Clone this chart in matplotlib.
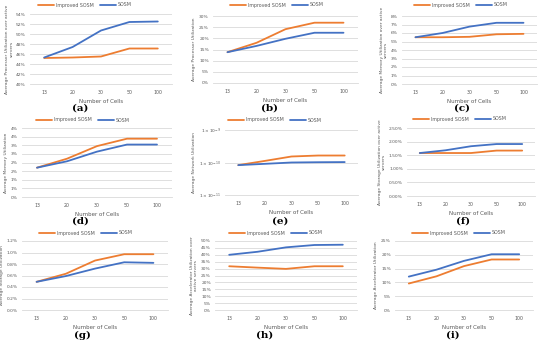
import matplotlib
matplotlib.use("Agg")
import matplotlib.pyplot as plt
from matplotlib.ticker import FixedLocator, FixedFormatter, NullLocator

# ---------------- data ----------------
cells = ["13", "20", "30", "50", "100"]
series_names = ["Improved SOSM", "SOSM"]

a_improved = [45.2, 45.3, 45.5, 47.1, 47.1]
a_sosm = [45.3, 47.4, 50.7, 52.4, 52.5]

b_improved = [13.8, 18.0, 24.1, 27.0, 27.0]
b_sosm = [13.8, 16.6, 19.8, 22.5, 22.5]

c_improved = [5.5, 5.5, 5.55, 5.85, 5.9]
c_sosm = [5.5, 6.0, 6.75, 7.2, 7.2]

d_improved = [1.7, 2.22, 2.95, 3.38, 3.38]
d_sosm = [1.7, 2.07, 2.63, 3.04, 3.04]

e_improved = [0.83e-10, 1.12e-10, 1.53e-10, 1.64e-10, 1.64e-10]
e_sosm = [0.83e-10, 0.91e-10, 1.0e-10, 1.02e-10, 1.03e-10]

f_improved = [1.58, 1.58, 1.58, 1.67, 1.67]
f_sosm = [1.58, 1.68, 1.83, 1.91, 1.91]

g_improved = [0.49, 0.63, 0.86, 0.97, 0.97]
g_sosm = [0.49, 0.59, 0.72, 0.83, 0.82]

h_improved = [31.7, 30.7, 29.8, 31.7, 31.7]
h_sosm = [40.0, 42.2, 45.4, 47.1, 47.3]

i_improved = [9.6, 12.2, 15.9, 18.3, 18.3]
i_sosm = [12.1, 14.6, 17.8, 20.2, 20.2]

a_ticks = [40, 42, 44, 46, 48, 50, 52, 54]
a_labels = ["40%", "42%", "44%", "46%", "48%", "50%", "52%", "54%"]
b_ticks = [0, 5, 10, 15, 20, 25, 30]
b_labels = ["0%", "5%", "10%", "15%", "20%", "25%", "30%"]
c_ticks = [0, 1, 2, 3, 4, 5, 6, 7, 8]
c_labels = ["0%", "1%", "2%", "3%", "4%", "5%", "6%", "7%", "8%"]
d_ticks = [0, 0.5, 1, 1.5, 2, 2.5, 3, 3.5, 4]
d_labels = ["0%", "1%", "1%", "2%", "2%", "3%", "3%", "4%", "4%"]
e_ticks = [1e-11, 1e-10, 1e-9]
e_labels = [r"$1\times10^{-11}$", r"$1\times10^{-10}$", r"$1\times10^{-9}$"]
f_ticks = [0, 0.5, 1.0, 1.5, 2.0, 2.5]
f_labels = ["0.00%", "0.50%", "1.00%", "1.50%", "2.00%", "2.50%"]
g_ticks = [0, 0.2, 0.4, 0.6, 0.8, 1.0, 1.2]
g_labels = ["0.0%", "0.2%", "0.4%", "0.6%", "0.8%", "1.0%", "1.2%"]
h_ticks = [0, 5, 10, 15, 20, 25, 30, 35, 40, 45, 50]
h_labels = ["0%", "5%", "10%", "15%", "20%", "25%", "30%", "35%", "40%", "45%", "50%"]
i_ticks = [0, 5, 10, 15, 20, 25]
i_labels = ["0%", "5%", "10%", "15%", "20%", "25%"]

y_titles = [
    "Average Processor Utilization over active\nservers",
    "Average Processor Utilization",
    "Average Memory Utilization over active\nservers",
    "Average Memory Utilization",
    "Average Network Utilization",
    "Average Storage Utilization over active\nservers",
    "Average Storage Utilization",
    "Average Accelerator Utilization over\nactive servers",
    "Average Accelerator Utilization",
]
panel_tags = ["(a)", "(b)", "(c)", "(d)", "(e)", "(f)", "(g)", "(h)", "(i)"]

panels_data = [
    (a_improved, a_sosm, a_ticks, a_labels),
    (b_improved, b_sosm, b_ticks, b_labels),
    (c_improved, c_sosm, c_ticks, c_labels),
    (d_improved, d_sosm, d_ticks, d_labels),
    (e_improved, e_sosm, e_ticks, e_labels),
    (f_improved, f_sosm, f_ticks, f_labels),
    (g_improved, g_sosm, g_ticks, g_labels),
    (h_improved, h_sosm, h_ticks, h_labels),
    (i_improved, i_sosm, i_ticks, i_labels),
]

# ---------------- layout (pixels, top-left origin) ----------------
W, H = 550, 342
boxes = [
    (30, 14, 172, 84), (213, 16, 358, 83), (402, 16, 537, 84),
    (22, 128, 172, 197), (225, 130, 358, 195), (407, 128, 535, 196),
    (22, 241, 168, 310), (215, 241, 357, 310), (395, 241, 533, 310),
]
legend_pos = [(85, 5), (277, 5), (461, 5),
              (83, 120), (275, 120), (460, 119),
              (86, 233), (276, 233), (459, 233)]
tag_pos = [(80, 108), (270, 108), (462, 108),
           (80, 221), (280, 221), (463, 221),
           (82, 335), (265, 335), (453, 335)]

ORANGE = "#ED7D31"
BLUE = "#4472C4"
TXT = "#595959"
GRID = "#D9D9D9"

fig = plt.figure(figsize=(W / 100, H / 100), dpi=100)
fig.patch.set_facecolor("white")

for k, (imp, sos, ticks, labels) in enumerate(panels_data):
    x0, y0, x1, y1 = boxes[k]
    ax = fig.add_axes([x0 / W, 1 - y1 / H, (x1 - x0) / W, (y1 - y0) / H])
    xs = list(range(len(cells)))
    l1, = ax.plot(xs, imp, color=ORANGE, lw=1.3, solid_capstyle="round")
    l2, = ax.plot(xs, sos, color=BLUE, lw=1.3, solid_capstyle="round")
    if k == 4:
        ax.set_yscale("log")
        ax.yaxis.set_minor_locator(NullLocator())
    ax.set_ylim(ticks[0], ticks[-1])
    ax.yaxis.set_major_locator(FixedLocator(ticks))
    ax.yaxis.set_major_formatter(FixedFormatter(labels))
    ax.set_xlim(-0.5, len(cells) - 0.5)
    ax.set_xticks(xs)
    ax.set_xticklabels(cells)
    ax.grid(axis="y", color=GRID, lw=0.6)
    ax.set_axisbelow(True)
    for s in ["top", "right", "left"]:
        ax.spines[s].set_visible(False)
    ax.spines["bottom"].set_color(GRID)
    ax.spines["bottom"].set_linewidth(0.6)
    ax.tick_params(axis="x", length=0, labelsize=3.4, colors=TXT, pad=4)
    ax.tick_params(axis="y", length=0, labelsize=3.2, colors=TXT, pad=3)
    ax.set_xlabel("Number of Cells", fontsize=4.0, color=TXT, labelpad=3)
    ax.set_ylabel(y_titles[k], fontsize=3.2, color=TXT, labelpad=2,
                  linespacing=1.0)
    lx, ly = legend_pos[k]
    fig.legend([l1, l2], series_names, loc="center",
               bbox_to_anchor=(lx / W, 1 - ly / H), ncol=2, frameon=False,
               fontsize=3.4, handlelength=3.4, columnspacing=1.2,
               handletextpad=0.4, labelcolor=TXT)
    tx, ty = tag_pos[k]
    fig.text(tx / W, 1 - ty / H, panel_tags[k], ha="center", va="center",
             fontsize=7.5, fontweight="bold", family="DejaVu Serif")

fig.savefig("out.png", dpi=100)
